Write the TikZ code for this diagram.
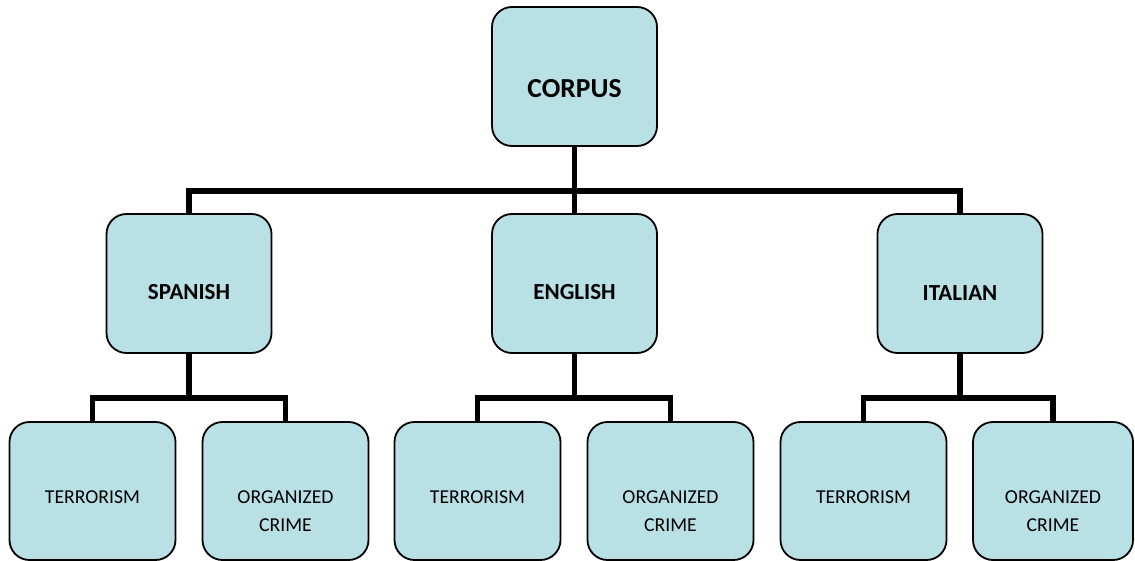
\documentclass[tikz,border=0pt]{standalone}
\usepackage{fontspec}
\setmainfont{Carlito}
\usetikzlibrary{backgrounds}
\definecolor{boxfill}{RGB}{185,224,228}
\begin{document}
\begin{tikzpicture}[x=1pt,y=-1pt,
  box/.style={draw=black, line width=1.8pt, fill=boxfill, rounded corners=20pt,
    minimum width=165pt, minimum height=139pt, inner sep=0pt},
  leaf/.style={box, minimum width=166pt, minimum height=138pt},
  conn/.style={line width=5.5pt, line join=miter, line cap=butt},
  toptext/.style={font=\bfseries\fontsize{27.5}{32}\selectfont, text depth=0pt},
  midtext/.style={font=\bfseries\fontsize{23}{27}\selectfont, text depth=0pt},
  leaftext/.style={font=\fontsize{19.7}{28}\selectfont, align=center, text depth=0pt},
]
\useasboundingbox (0,0) rectangle (1135,561);

% root
\node[box, label={[toptext,yshift=-11.5pt]center:CORPUS}] (corpus) at (574.5,76.5) {};

% languages
\node[box, label={[midtext,yshift=-8.5pt]center:SPANISH}] (sp) at (189,283.5) {};
\node[box, label={[midtext,yshift=-8.5pt]center:ENGLISH}] (en) at (574.5,283.5) {};
\node[box, label={[midtext,yshift=-10pt]center:ITALIAN}] (it) at (960,283.5) {};

% topics
\node[leaf, label={[leaftext,yshift=-6pt]center:TERRORISM}] (spt) at (92.5,491) {};
\node[leaf, label={[leaftext,yshift=-20pt]center:ORGANIZED\\CRIME}] (spo) at (285.5,491) {};
\node[leaf, label={[leaftext,yshift=-6pt]center:TERRORISM}] (ent) at (477.5,491) {};
\node[leaf, label={[leaftext,yshift=-20pt]center:ORGANIZED\\CRIME}] (eno) at (670.5,491) {};
\node[leaf, label={[leaftext,yshift=-6pt]center:TERRORISM}] (itt) at (863.5,491) {};
\node[leaf, minimum width=160pt, label={[leaftext,yshift=-20pt]center:ORGANIZED\\CRIME}] (ito) at (1053,491) {};

% bus lines
\coordinate (bar) at (574.5,191);
\coordinate (lowbar) at (574.5,398);

\begin{scope}[on background layer]
  \draw[conn] (corpus.south) -- (corpus.south |- bar);
  \draw[conn] (sp.north) |- (bar) -| (it.north);
  \draw[conn] (en.north) -- (en.north |- bar);

  \draw[conn] (sp.south) -- (sp.south |- lowbar);
  \draw[conn] (spt.north) |- (sp.south |- lowbar) -| (spo.north);
  \draw[conn] (en.south) -- (en.south |- lowbar);
  \draw[conn] (ent.north) |- (en.south |- lowbar) -| (eno.north);
  \draw[conn] (it.south) -- (it.south |- lowbar);
  \draw[conn] (itt.north) |- (it.south |- lowbar) -| (ito.north);
\end{scope}
\end{tikzpicture}
\end{document}
